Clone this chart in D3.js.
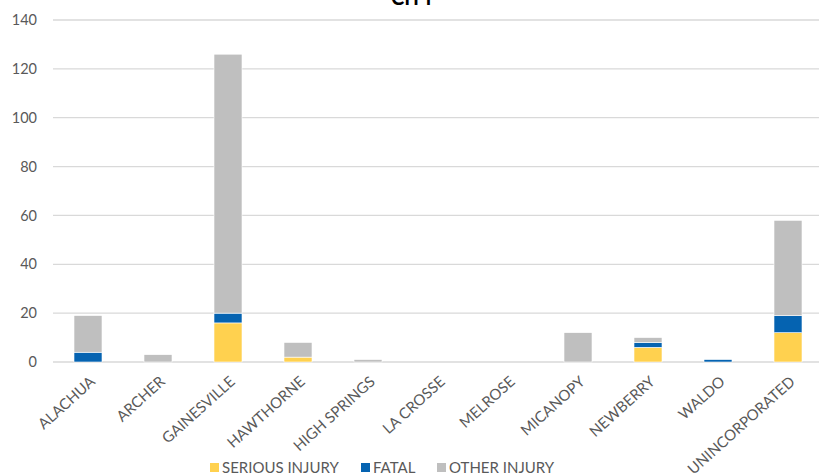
<!DOCTYPE html>
<html>
<head>
<meta charset="utf-8">
<script src="https://cdn.jsdelivr.net/npm/d3@7"></script>
<style>
    body { margin: 0; background: #fff; }
    text { font-family: Lato, "Open Sans", sans-serif; fill: #595959; }
</style>
</head>
<body>
<svg id="chart" width="819" height="476"></svg>
<script>
// Data
/////////////////////////////////
var cities = ['ALACHUA', 'ARCHER', 'GAINESVILLE', 'HAWTHORNE', 'HIGH SPRINGS', 'LA CROSSE',
    'MELROSE', 'MICANOPY', 'NEWBERRY', 'WALDO', 'UNINCORPORATED'];
var serious = [0, 0, 16, 2, 0, 0, 0, 0, 6, 0, 12];
var fatal = [4, 0, 4, 0, 0, 0, 0, 0, 2, 1, 7];
var other = [15, 3, 106, 6, 1, 0, 0, 12, 2, 0, 39];
var yTicks = [0, 20, 40, 60, 80, 100, 120, 140];

var seriesNames = ['SERIOUS INJURY', 'FATAL', 'OTHER INJURY'];
var colors = ['#FFD14F', '#0563B1', '#BFBFBF'];

// Defaults values:
var margin = { top: 20, right: -4, bottom: 114, left: 53 },
    width = 819 - margin.left - margin.right,
    height = 476 - margin.top - margin.bottom;

var svg = d3.select('#chart');
var g = svg.append('g').attr('transform', 'translate(' + margin.left + ',' + margin.top + ')');

var rows = cities.map(function (c, i) {
    return { city: c, s0: serious[i], s1: fatal[i], s2: other[i] };
});
var stack = d3.stack().keys(['s0', 's1', 's2'])(rows);

var x = d3.scaleBand().domain(cities).range([0, width]).paddingInner(0.6).paddingOuter(0.3);
var y = d3.scaleLinear().domain([0, 140]).range([height, 0]);

// gridlines
g.selectAll('.grid').data(yTicks).enter().append('line')
    .attr('x1', 0).attr('x2', width)
    .attr('y1', function (d) { return y(d); })
    .attr('y2', function (d) { return y(d); })
    .attr('stroke', '#d9d9d9').attr('stroke-width', 1.3);

// y labels
g.selectAll('.ylab').data(yTicks).enter().append('text')
    .attr('x', -16).attr('y', function (d) { return y(d); })
    .attr('dy', '0.35em').attr('text-anchor', 'end')
    .style('font-size', '14.5px')
    .text(function (d) { return d; });

// bars
g.selectAll('.layer').data(stack).enter().append('g')
    .attr('fill', function (d, i) { return colors[i]; })
    .selectAll('rect').data(function (d) { return d; }).enter().append('rect')
    .attr('x', function (d) { return x(d.data.city); })
    .attr('width', x.bandwidth())
    .attr('y', function (d) { return y(d[1]); })
    .attr('height', function (d) { return y(d[0]) - y(d[1]); })
    .attr('stroke', '#fff').attr('stroke-width', 0.6);

// x labels
g.selectAll('.xlab').data(cities).enter().append('text')
    .attr('transform', function (d) {
        return 'translate(' + (x(d) + x.bandwidth() / 2 + 8) + ',' + (height + 21) + ') rotate(-42)';
    })
    .attr('text-anchor', 'end')
    .style('font-size', '15px')
    .text(function (d) { return d; });

// title
svg.append('text').attr('x', 413).attr('y', 5)
    .attr('text-anchor', 'middle')
    .style('font-size', '20px').style('font-weight', 'bold').style('fill', '#000')
    .text('CITY');

// legend
var legendX = [210, 361, 437];
var legend = svg.selectAll('.legend').data(seriesNames).enter().append('g')
    .attr('transform', function (d, i) { return 'translate(' + legendX[i] + ',463)'; });
legend.append('rect').attr('width', 9).attr('height', 9)
    .attr('fill', function (d, i) { return colors[i]; });
legend.append('text').attr('x', 12).attr('y', 5).attr('dy', '0.35em')
    .style('font-size', '15px')
    .text(function (d) { return d; });
</script>
</body>
</html>
